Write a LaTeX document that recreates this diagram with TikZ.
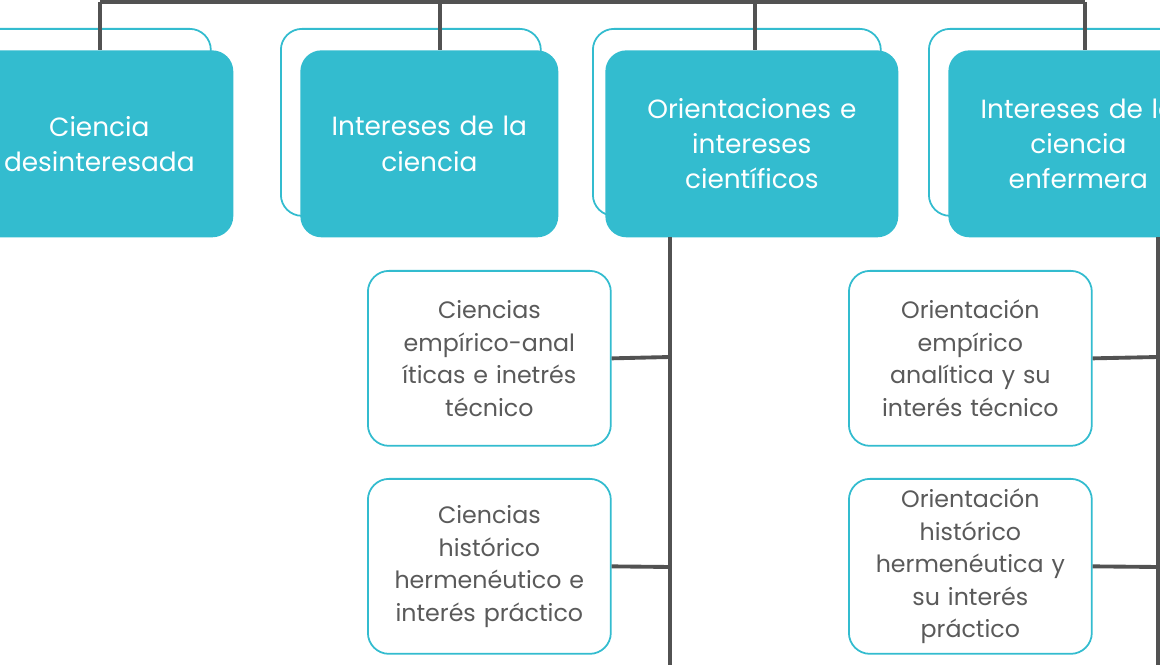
\documentclass[tikz,border=0pt]{standalone}
\usepackage{fontspec}
\setmainfont{Poppins}
\usetikzlibrary{positioning}
\definecolor{teal1}{HTML}{33BCCF}
\definecolor{txt}{HTML}{5A5A5A}
\begin{document}
\begin{tikzpicture}[
    x=0.02cm, y=-0.02cm,
    back/.style={draw=teal1, line width=1pt, fill=white, rounded corners=12pt, anchor=north west},
    main/.style={fill=teal1, rounded corners=12pt, anchor=north west, text=white, align=center, font=\fontsize{15}{20}\selectfont, inner sep=2pt},
    leaf/.style={draw=teal1, line width=1pt, fill=white, rounded corners=12pt, anchor=north west, text=txt, align=center, font=\fontsize{13.5}{18.5}\selectfont, inner sep=2pt, minimum width=4.86cm, minimum height=3.5cm, text width=4.7cm},
    link/.style={draw=black!68, line width=2.2pt}
]
    \useasboundingbox (0,0) rectangle (1160,665);
    \clip (0,0) rectangle (1160,665);

    % back frames
    \node[back, minimum width=5.2cm, minimum height=3.74cm] (b1) at (-50,28) {};
    \node[back, minimum width=5.2cm, minimum height=3.74cm] (b2) at (280,28) {};
    \node[back, minimum width=5.76cm, minimum height=3.74cm] (b3) at (592,28) {};
    \node[back, minimum width=5.2cm, minimum height=3.74cm] (b4) at (928,28) {};

    % top bar
    \coordinate (t1) at (100,2);
    \coordinate (t4) at (1085,2);
    \draw[link] (t1) -- (t4);
    \foreach \x in {100, 440, 755, 1085}
        \draw[link] (\x,2) -- (\x,50);

    % main boxes
    \node[main, minimum width=5.36cm, minimum height=3.74cm, text width=5.2cm] (m1) at (-35,50) {Ciencia\\\mbox{desinteresada}};
    \node[main, minimum width=5.16cm, minimum height=3.74cm, text width=5cm] (m2) at (300,50) {Intereses de la\\ciencia};
    \node[main, minimum width=5.86cm, minimum height=3.74cm, text width=5.7cm] (m3) at (605,50) {Orientaciones e\\intereses\\científicos};
    \node[main, minimum width=5.2cm, minimum height=3.74cm, text width=5cm] (m4) at (948,50) {Intereses de la\\ciencia\\enfermera};

    % leaves
    \node[leaf] (l1) at (367,270) {Ciencias\\empírico-anal\\íticas e inetrés\\técnico};
    \node[leaf] (l2) at (367,478) {Ciencias\\histórico\\hermenéutico e\\interés práctico};
    \node[leaf] (l3) at (848,270) {Orientación\\empírico\\analítica y su\\interés técnico};
    \node[leaf] (l4) at (848,478) {Orientación\\histórico\\hermenéutica y\\su interés\\práctico};

    % trunks
    \coordinate (s3) at (670,237);
    \coordinate (e3) at (670,665);
    \coordinate (s4) at (1158,237);
    \coordinate (e4) at (1158,665);
    \draw[link] (s3) -- (e3);
    \draw[link] (s4) -- (e4);
    \draw[link] (l1.east) -- (670,357);
    \draw[link] (l2.east) -- (670,567);
    \draw[link] (l3.east) -- (1158,357);
    \draw[link] (l4.east) -- (1158,567);
\end{tikzpicture}
\end{document}
